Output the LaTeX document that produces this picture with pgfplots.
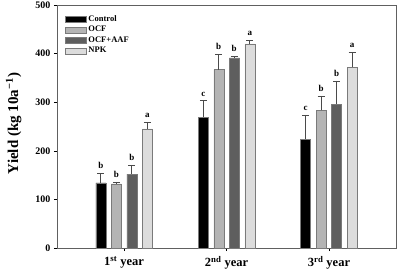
\documentclass[border=0pt]{standalone}
\usepackage{pgfplots}
\pgfplotsset{compat=1.18}
\usepackage{pgfplotstable}
\usepackage{fontspec}
\setmainfont{Liberation Serif}

\definecolor{cCtrl}{HTML}{000000}
\definecolor{cOCF}{HTML}{B4B4B4}
\definecolor{cAAF}{HTML}{5E5E5E}
\definecolor{cNPK}{HTML}{DCDCDC}
\definecolor{edge}{HTML}{7A7A7A}
\definecolor{errc}{HTML}{4A4A4A}

% year index, mean yield, upper error, significance letter
\pgfplotstableread{
x y err lab
0 134 20 b
1 269 34 c
2 224 50 c
}\ctrl
\pgfplotstableread{
x y err lab
0 132 4 b
1 367 31 b
2 283 30 b
}\ocf
\pgfplotstableread{
x y err lab
0 152 19 b
1 391 3 b
2 296 48 b
}\ocfaaf
\pgfplotstableread{
x y err lab
0 245 14 a
1 420 7 a
2 372 31 a
}\npk

\begin{document}
\begin{tikzpicture}
\path[use as bounding box] (-57pt,-25pt) rectangle (344pt,248pt);
\begin{axis}[
  at={(0,0)}, anchor=south west,
  scale only axis, width=339pt, height=243pt,
  xmin=-0.654, xmax=2.654, ymin=0, ymax=500,
  ybar, bar width=10pt,
  xtick={0,1,2},
  xticklabels={1\textsuperscript{st} year, 2\textsuperscript{nd} year, 3\textsuperscript{rd} year},
  ytick={0,100,...,500},
  tick align=outside, tick pos=left, major tick length=3pt,
  tick style={color=black, line width=0.6pt},
  axis line style={draw=gray!75!black, line width=0.6pt},
  /pgf/number format/assume math mode=true,
  yticklabel style={font=\bfseries\fontsize{10}{12}\selectfont},
  xticklabel style={font=\bfseries\fontsize{12.5}{14}\selectfont, yshift=-2pt},
  ylabel={Yield (kg 10a\textsuperscript{−1})},
  ylabel style={font=\bfseries\fontsize{15}{17}\selectfont, at={(axis description cs:-0.128,0.512)}, anchor=center},
  legend style={draw=none, fill=none, at={(axis description cs:0.02,0.97)}, anchor=north west,
    font=\bfseries\fontsize{8.5}{10}\selectfont, row sep=-0.6pt, inner sep=1pt},
  legend cell align=left,
  legend image code/.code={\draw[#1, line width=0.5pt] (0pt,-3pt) rectangle (21pt,3pt);},
  error bars/y dir=plus, error bars/y explicit,
  error bars/error bar style={color=errc, line width=0.6pt},
  error bars/error mark options={rotate=90, mark size=3.5pt, line width=0.6pt, color=errc},
  nodes near coords style={font=\bfseries\fontsize{9}{10}\selectfont, anchor=south, yshift=1pt, color=black},
]
\addplot[fill=cCtrl, draw=edge, line width=0.5pt, bar shift=-23.25pt] table[x=x, y=y, y error=err] {\ctrl};
\addplot[fill=cOCF, draw=edge, line width=0.5pt, bar shift=-7.75pt] table[x=x, y=y, y error=err] {\ocf};
\addplot[fill=cAAF, draw=edge, line width=0.5pt, bar shift=7.75pt] table[x=x, y=y, y error=err] {\ocfaaf};
\addplot[fill=cNPK, draw=edge, line width=0.5pt, bar shift=23.25pt] table[x=x, y=y, y error=err] {\npk};
\legend{Control, OCF, OCF+AAF, NPK}

% significance letters above the error bars
\addplot[draw=none, fill=none, forget plot, bar shift=-23.25pt, nodes near coords, point meta=explicit symbolic,
  error bars/y dir=none] table[x=x, y expr=\thisrow{y}+\thisrow{err}, meta=lab] {\ctrl};
\addplot[draw=none, fill=none, forget plot, bar shift=-7.75pt, nodes near coords, point meta=explicit symbolic,
  error bars/y dir=none] table[x=x, y expr=\thisrow{y}+\thisrow{err}, meta=lab] {\ocf};
\addplot[draw=none, fill=none, forget plot, bar shift=7.75pt, nodes near coords, point meta=explicit symbolic,
  error bars/y dir=none] table[x=x, y expr=\thisrow{y}+\thisrow{err}, meta=lab] {\ocfaaf};
\addplot[draw=none, fill=none, forget plot, bar shift=23.25pt, nodes near coords, point meta=explicit symbolic,
  error bars/y dir=none] table[x=x, y expr=\thisrow{y}+\thisrow{err}, meta=lab] {\npk};
\end{axis}
\end{tikzpicture}
\end{document}
